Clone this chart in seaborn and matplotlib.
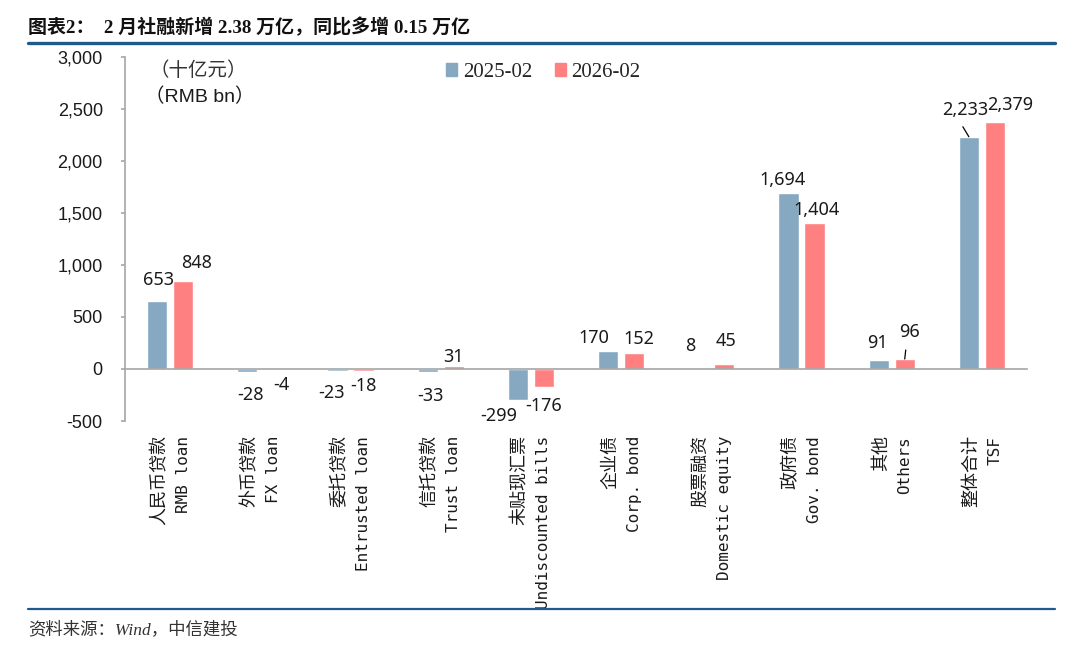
import numpy as np
import pandas as pd
import matplotlib.pyplot as plt
import matplotlib.ticker as mticker
import seaborn as sns

cat_cn = ['人民币贷款', '外币贷款', '委托贷款', '信托贷款', '未贴现汇票',
          '企业债', '股票融资', '政府债', '其他', '整体合计']
cat_en = ['RMB loan', 'FX loan', 'Entrusted loan', 'Trust loan', 'Undiscounted bills',
          'Corp. bond', 'Domestic equity', 'Gov. bond', 'Others', 'TSF']
series_names = ['2025-02', '2026-02']
values_2025 = [653, -28, -23, -33, -299, 170, 8, 1694, 91, 2233]
values_2026 = [848, -4, -18, 31, -176, 152, 45, 1404, 96, 2379]
y_ticks = [-500, 0, 500, 1000, 1500, 2000, 2500, 3000]

# label nudges in pixels (dx, dy) from the bar end, one list per series
offs_2025 = [(1, 21), (3, -23), (-6, -22), (3, -24), (-19, -16),
             (-14, 13), (-8, 22), (-6, 13), (-1, 17), (-4, 27)]
offs_2026 = [(13, 18), (8, -15.5), (0, -15), (0, 9), (0, -19),
             (5, 14), (2, 23), (2, 13), (5, 27), (15, 17)]
# short leader lines: (series, category, dx0, dy0, dx1, dy1) in pixels
leaders = [(0, 9, 0, 0, -6, 10), (1, 8, -2, 3, 1, 9)]

df = pd.DataFrame({
    'cat': cat_cn * 2,
    'series': [series_names[0]] * len(cat_cn) + [series_names[1]] * len(cat_cn),
    'value': values_2025 + values_2026,
})

sns.set_style('white')
plt.rcParams['font.family'] = ['Liberation Sans', 'Noto Sans CJK SC']
plt.rcParams['axes.unicode_minus'] = False

blue = '#86a8c1'
pink = '#ff8080'
grey = '#a6a6a6'
navy = '#1f5a8f'
ink = '#1a1a1a'

fig = plt.figure(figsize=(10.8, 6.56), dpi=100)
ax = fig.add_axes([125 / 1080, 1 - 421 / 656, 902 / 1080, 364 / 656])

sns.barplot(data=df, x='cat', y='value', hue='series', order=cat_cn,
            hue_order=series_names, palette=[blue, pink], width=0.578, gap=0.23,
            saturation=1, ax=ax, legend=False)

ax.set_xlim(-0.5, len(cat_cn) - 0.5)
ax.set_ylim(-500, 3000)
ax.set_yticks(y_ticks)
ax.yaxis.set_major_formatter(mticker.FuncFormatter(lambda v, p: f'{int(v):,}'))
ax.set_xlabel('')
ax.set_ylabel('')

for s in ['top', 'right']:
    ax.spines[s].set_visible(False)
ax.spines['bottom'].set_position(('data', 0))
for s in ['left', 'bottom']:
    ax.spines[s].set_color(grey)
    ax.spines[s].set_linewidth(1.2)

ax.set_xticks([])
ax.set_xticks(np.arange(-0.5, len(cat_cn)), minor=True)
ax.tick_params(axis='x', which='minor', direction='out', length=4, color=grey, width=1.2)
ax.tick_params(axis='y', direction='out', length=3, color=grey, width=1.2,
               labelsize=13, labelcolor=ink, pad=13, left=True)

# value labels
for cont, offs in zip(ax.containers, [offs_2025, offs_2026]):
    for bar, (dx, dy) in zip(cont, offs):
        h = bar.get_height()
        xc = bar.get_x() + bar.get_width() / 2
        ax.annotate(f'{int(round(h)):,}', xy=(xc, h), xytext=(dx, dy),
                    textcoords='offset pixels', ha='center', va='center',
                    fontsize=13, family='Noto Sans', color=ink)

for si, ci, x0, y0, x1, y1 in leaders:
    bar = ax.containers[si][ci]
    xc = bar.get_x() + bar.get_width() / 2
    ax.annotate('', xy=(xc, bar.get_height()), xytext=(x1, y1), textcoords='offset pixels',
                arrowprops=dict(arrowstyle='-', color='black', lw=0.9,
                                shrinkA=0, shrinkB=0))

# category labels (two rotated lines each)
for i, (cn, en) in enumerate(zip(cat_cn, cat_en)):
    ax.annotate(cn, xy=(i, 0), xycoords=('data', 'axes fraction'),
                xytext=(-11, -14), textcoords='offset pixels', rotation=90,
                ha='center', va='top', fontsize=13, family='Noto Sans CJK SC', color=ink)
    ax.annotate(en, xy=(i, 0), xycoords=('data', 'axes fraction'),
                xytext=(13, -15), textcoords='offset pixels', rotation=90,
                ha='center', va='top', fontsize=11.5,
                family=['DejaVu Sans Mono', 'Noto Sans CJK SC'], color=ink)

# unit text
fig.text(198 / 1080, 1 - 70 / 656, '（十亿元）', ha='center', va='center',
         fontsize=14, family=['Noto Sans CJK SC'], color='#333333')
fig.text(200 / 1080, 1 - 97 / 656, '（RMB bn）', ha='center', va='center',
         fontsize=14, family=['Liberation Sans', 'Noto Sans CJK SC'], color=ink)

# legend
handles = [plt.Rectangle((0, 0), 1, 1, color=c) for c in [blue, pink]]
fig.legend(handles, series_names, loc='upper left', bbox_to_anchor=(446 / 1080, 1 - 63 / 656),
           ncol=2, frameon=False, handlelength=0.55, handleheight=0.6, handletextpad=0.25,
           columnspacing=1.1, borderaxespad=0, borderpad=0,
           prop={'family': 'Liberation Serif', 'size': 15})

# title, rules and source
fig.text(28 / 1080, 1 - 27 / 656, '图表2：  2 月社融新增 2.38 万亿，同比多增 0.15 万亿',
         ha='left', va='center', fontsize=13.7, fontweight='bold',
         family=['Liberation Serif', 'Noto Sans CJK SC'], color='#111111')
fig.add_artist(plt.Line2D([28 / 1080, 1055 / 1080], [1 - 43 / 656] * 2, color=navy, lw=2.4))
fig.add_artist(plt.Line2D([28 / 1080, 1055 / 1080], [1 - 609 / 656] * 2, color=navy, lw=1.6))
fig.text(28 / 1080, 1 - 630 / 656, '资料来源：Wind，中信建投', ha='left', va='center',
         fontsize=12.5, style='italic', family=['Liberation Serif', 'Noto Sans CJK SC'],
         color='#333333')

fig.savefig('out.png', dpi=100)
